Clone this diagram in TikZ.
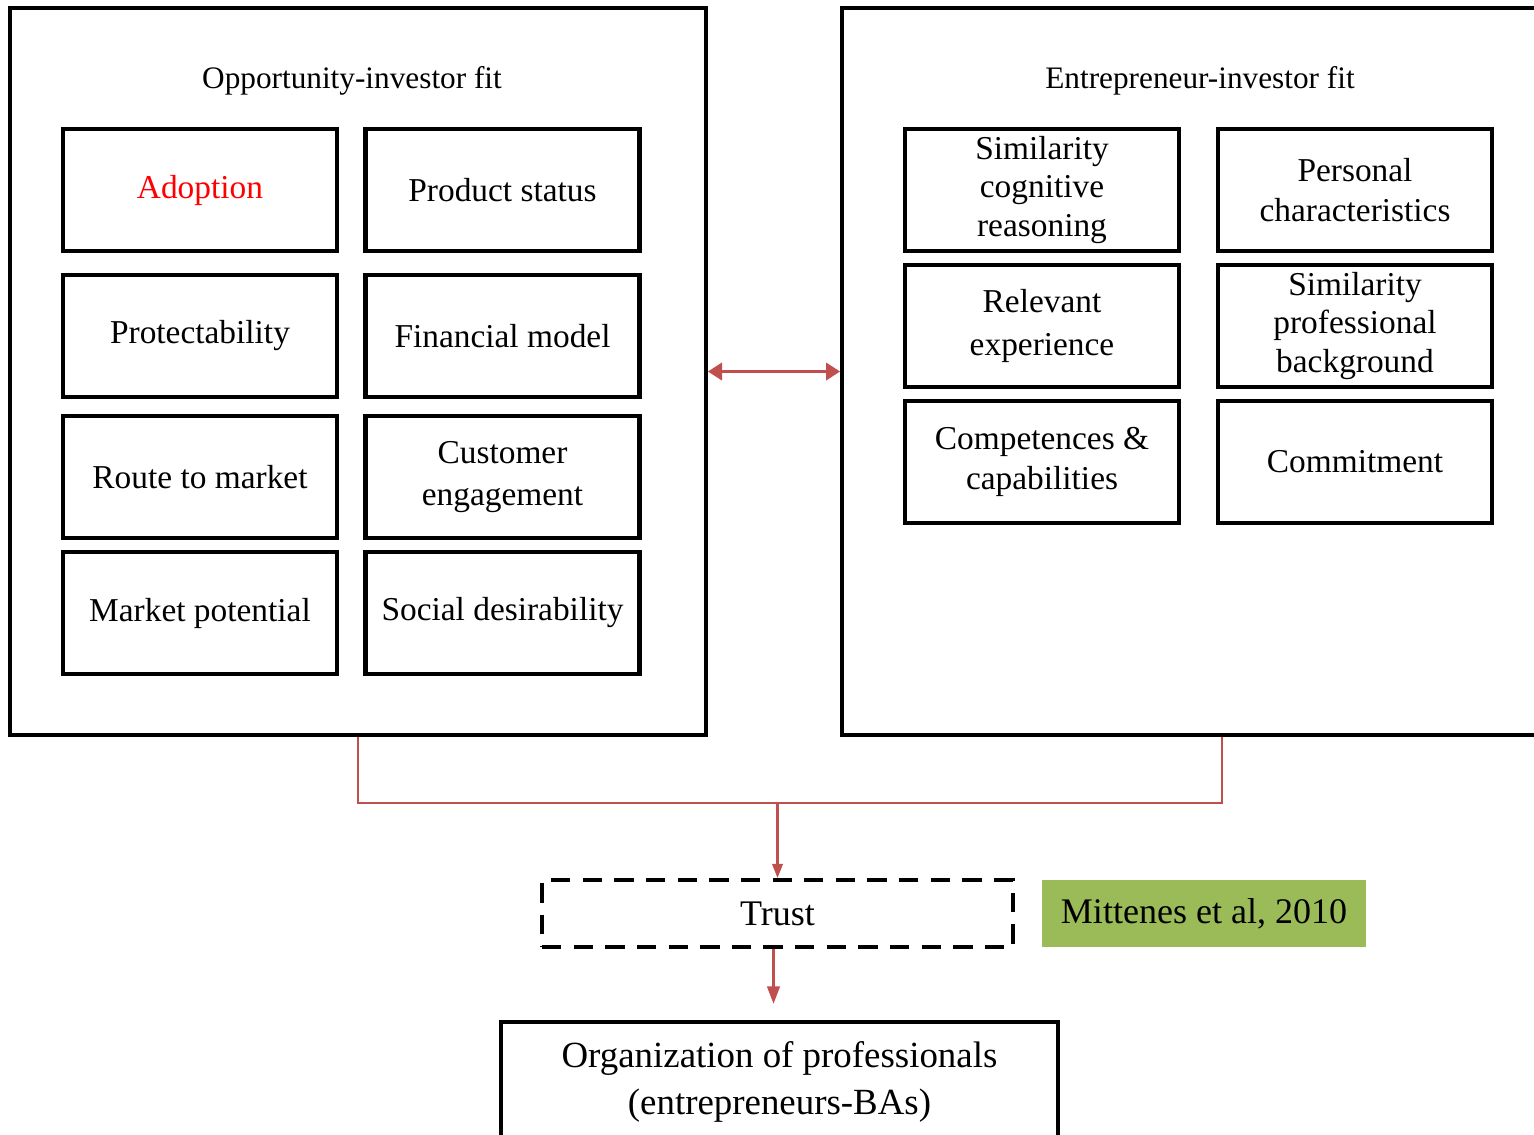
\documentclass[tikz,border=0pt]{standalone}
\usepackage{fontspec}
\setmainfont{Liberation Serif}
\definecolor{linkred}{RGB}{192, 80, 77}
\definecolor{citegreen}{RGB}{155, 187, 89}
\usetikzlibrary{arrows.meta, positioning}

\begin{document}
\begin{tikzpicture}[x=0.02cm, y=-0.02cm,
  cell/.style={draw, line width=2.4pt, minimum width=5.48cm, minimum height=2.44cm, align=center, inner sep=2pt, font=\fontsize{19}{22.5}\selectfont},
  group/.style={draw, line width=2.3pt, minimum height=14.54cm, inner sep=0pt},
  link/.style={draw=linkred, line width=1.2pt}]
  \useasboundingbox (0,0) rectangle (1534,1134);
  \clip (0,0) rectangle (1534,1134);

  % Outer frames
  \node[group, minimum width=13.92cm] (opp) at (358, 371.5) {};
  \node[group, minimum width=15.2cm] (ent) at (1222, 371.5) {};
  \node[font=\fontsize{17.8}{20}\selectfont] (opptitle) at (352, 81) {Opportunity-investor fit};
  \node[font=\fontsize{17.8}{20}\selectfont] (enttitle) at (1200, 81) {Entrepreneur-investor fit};

  % Opportunity-investor fit items
  \node[cell, text=red] (adoption) at (200, 190) {Adoption};
  \node[cell] (product) at (502.5, 190) {Product status};
  \node[cell] (protect) at (200, 336) {Protectability};
  \node[cell] (finance) at (502.5, 336) {Financial model};
  \node[cell] (route) at (200, 477) {Route to market};
  \node[cell, font=\fontsize{19}{23.5}\selectfont] (customer) at (502.5, 477) {Customer\\engagement};
  \node[cell] (market) at (200, 613) {Market potential};
  \node[cell] (social) at (502.5, 613) {Social desirability};

  % Entrepreneur-investor fit items
  \node[cell, font=\fontsize{19}{22}\selectfont] (cognitive) at (1042, 190) {Similarity\\cognitive\\reasoning};
  \node[cell] (personal) at (1355, 190) {Personal\\characteristics};
  \node[cell, font=\fontsize{19}{24}\selectfont] (experience) at (1042, 326) {Relevant\\experience};
  \node[cell, font=\fontsize{19}{22}\selectfont] (background) at (1355, 326) {Similarity\\professional\\background};
  \node[cell] (competence) at (1042, 462) {Competences \&\\capabilities};
  \node[cell] (commit) at (1355, 462) {Commitment};

  % Fit link
  \draw[link, {Triangle[length=8pt, width=10pt]}-{Triangle[length=8pt, width=10pt]}] (opp.east) -- (ent.west);

  % Trust and outcome
  \node[draw, dashed, dash pattern=on 11pt off 7pt, line width=2.3pt, minimum width=9.42cm, minimum height=1.34cm, font=\fontsize{20.5}{24}\selectfont] (trust) at (777.5, 913.5) {Trust};
  \node[fill=citegreen, minimum width=6.48cm, minimum height=1.34cm, font=\fontsize{20.5}{24}\selectfont] (cite) at (1204, 913.5) {Mittenes et al, 2010};
  \node[draw, line width=2.3pt, minimum width=11.14cm, minimum height=2.4cm, align=center, font=\fontsize{21}{27}\selectfont] (org) at (779.5, 1082) {Organization of professionals\\(entrepreneurs-BAs)};

  \coordinate (join) at (777.5, 803);
  \draw[link] (opp.south) |- (join) -| (ent.south);
  \draw[link, -{Triangle[length=8pt, width=6pt]}] (join) -- (trust.north);
  \draw[draw=linkred, line width=1.8pt, -{Triangle[length=10pt, width=7pt]}, shorten >=0.32cm] ([xshift=-0.08cm]trust.south) -- ([xshift=-0.08cm]trust.south |- org.north);
\end{tikzpicture}
\end{document}
